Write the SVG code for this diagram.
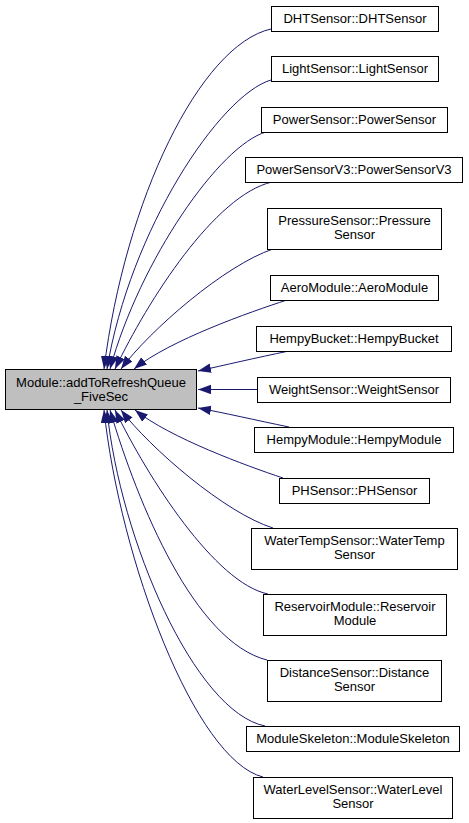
<svg xmlns="http://www.w3.org/2000/svg" width="469" height="823" viewBox="0 0 469 823">
<style>
.box{fill:#ffffff;stroke:#000000;stroke-width:1}
.main{fill:#bfbfbf;stroke:#000000;stroke-width:1}
.lbl{font-family:"Liberation Sans",Arial,Helvetica,sans-serif;font-size:13px;fill:#000000;text-anchor:middle}
.edge{fill:none;stroke:#191970;stroke-width:1;marker-end:url(#arr)}
</style>
<defs>
<marker id="arr" markerUnits="userSpaceOnUse" markerWidth="14" markerHeight="10" refX="13" refY="4.7" orient="auto">
<path d="M0,0 L13,4.7 L0,9.4 Z" fill="#191970"/>
</marker>
</defs>
<rect width="469" height="823" fill="#ffffff"/>
<g id="edges">
<path class="edge" d="M271,29 C200,45 125,200 104,369"/>
<path class="edge" d="M271,80 C220,95 130,230 107,369"/>
<path class="edge" d="M266,132 C220,145 140,260 110,369"/>
<path class="edge" d="M272,182 C215,195 148,300 115,369"/>
<path class="edge" d="M273,249 C225,265 150,330 121,369"/>
<path class="edge" d="M287,300 C250,312 170,340 134,369"/>
<path class="edge" d="M289,351 C255,358 225,365 198,371"/>
<path class="edge" d="M257,389.5 L198,389.5"/>
<path class="edge" d="M289,427 C255,420 225,413 198,408"/>
<path class="edge" d="M283,478 C247,466 170,438 135,410"/>
<path class="edge" d="M273,528 C225,513 150,448 121,410"/>
<path class="edge" d="M268,594 C215,583 148,478 115,410"/>
<path class="edge" d="M267,660 C195,642 138,505 110,410"/>
<path class="edge" d="M265,726 C195,712 120,540 107,410"/>
<path class="edge" d="M263,777 C195,760 120,560 104,410"/>
</g>
<g id="main">
<rect class="main" x="5.5" y="369.5" width="191" height="40"/>
<text class="lbl" x="101" y="386.5">Module::addToRefreshQueue</text>
<text class="lbl" x="101" y="400.5">_FiveSec</text>
</g>
<g id="n1"><rect class="box" x="271.5" y="6.5" width="167" height="25"/><text class="lbl" x="355" y="23.3">DHTSensor::DHTSensor</text></g>
<g id="n2"><rect class="box" x="271.5" y="56.5" width="167" height="25"/><text class="lbl" x="355" y="73.3">LightSensor::LightSensor</text></g>
<g id="n3"><rect class="box" x="261.5" y="107.5" width="186" height="25"/><text class="lbl" x="354.5" y="124.3">PowerSensor::PowerSensor</text></g>
<g id="n4"><rect class="box" x="245.5" y="157.5" width="217" height="25"/><text class="lbl" x="354" y="174.3">PowerSensorV3::PowerSensorV3</text></g>
<g id="n5"><rect class="box" x="267.5" y="208.5" width="174" height="41"/><text class="lbl" x="354.5" y="225">PressureSensor::Pressure</text><text class="lbl" x="354.5" y="239">Sensor</text></g>
<g id="n6"><rect class="box" x="270.5" y="275.5" width="168" height="25"/><text class="lbl" x="354.5" y="292.3">AeroModule::AeroModule</text></g>
<g id="n7"><rect class="box" x="256.5" y="326.5" width="195" height="25"/><text class="lbl" x="354" y="343.3">HempyBucket::HempyBucket</text></g>
<g id="n8"><rect class="box" x="257.5" y="377.5" width="193" height="25"/><text class="lbl" x="354" y="394.3">WeightSensor::WeightSensor</text></g>
<g id="n9"><rect class="box" x="254.5" y="427.5" width="199" height="25"/><text class="lbl" x="354" y="444.3">HempyModule::HempyModule</text></g>
<g id="n10"><rect class="box" x="279.5" y="478.5" width="150" height="25"/><text class="lbl" x="354.5" y="495.3">PHSensor::PHSensor</text></g>
<g id="n11"><rect class="box" x="251.5" y="528.5" width="206" height="41"/><text class="lbl" x="354.5" y="545">WaterTempSensor::WaterTemp</text><text class="lbl" x="354.5" y="559">Sensor</text></g>
<g id="n12"><rect class="box" x="263.5" y="594.5" width="183" height="41"/><text class="lbl" x="355" y="611">ReservoirModule::Reservoir</text><text class="lbl" x="355" y="625">Module</text></g>
<g id="n13"><rect class="box" x="267.5" y="660.5" width="174" height="41"/><text class="lbl" x="354.5" y="677">DistanceSensor::Distance</text><text class="lbl" x="354.5" y="691">Sensor</text></g>
<g id="n14"><rect class="box" x="246.5" y="726.5" width="213" height="25"/><text class="lbl" x="353" y="743.3">ModuleSkeleton::ModuleSkeleton</text></g>
<g id="n15"><rect class="box" x="253.5" y="777.5" width="199" height="41"/><text class="lbl" x="353" y="794">WaterLevelSensor::WaterLevel</text><text class="lbl" x="353" y="808">Sensor</text></g>
</svg>
